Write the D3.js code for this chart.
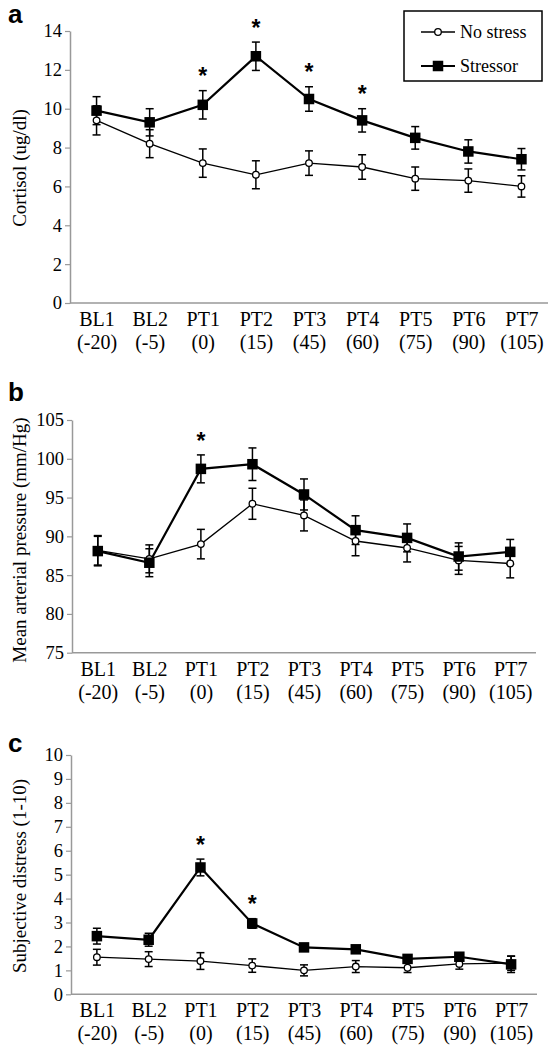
<!DOCTYPE html>
<html>
<head>
<meta charset="utf-8">
<script src="https://cdn.jsdelivr.net/npm/d3@7"></script>
<style>
  html, body { margin: 0; padding: 0; background: #fff; }
  svg { display: block; }
  svg text { font-family: "Liberation Serif", "Times New Roman", Times, "DejaVu Serif", serif; }
  svg text.sans { font-family: "Liberation Sans", Arial, Helvetica, sans-serif; font-weight: bold; }
</style>
</head>
<body>
<svg id="chart" width="557" height="1050"></svg>
<script>
// ---------- DATA ----------
const categories = ["BL1", "BL2", "PT1", "PT2", "PT3", "PT4", "PT5", "PT6", "PT7"];
const categoryTimes = ["(-20)", "(-5)", "(0)", "(15)", "(45)", "(60)", "(75)", "(90)", "(105)"];
const seriesNames = ["No stress", "Stressor"];

// Panel a: Cortisol (ug/dl)
const cortisolNoStress    = [9.4, 8.2, 7.2, 6.6, 7.2, 7.0, 6.4, 6.3, 6.0];
const cortisolNoStressErr = [0.75, 0.72, 0.73, 0.72, 0.63, 0.63, 0.6, 0.6, 0.55];
const cortisolStressor    = [9.9, 9.3, 10.2, 12.7, 10.5, 9.4, 8.5, 7.8, 7.4];
const cortisolStressorErr = [0.72, 0.7, 0.73, 0.73, 0.63, 0.6, 0.58, 0.6, 0.55];
const cortisolStars       = ["PT1", "PT2", "PT3", "PT4"];
const cortisolTicks       = [0, 2, 4, 6, 8, 10, 12, 14];

// Panel b: Mean arterial pressure (mm/Hg)
const mapNoStress    = [88.2, 87.1, 89.0, 94.2, 92.7, 89.4, 88.5, 86.9, 86.5];
const mapNoStressErr = [1.9, 1.8, 1.9, 2.0, 2.0, 1.9, 1.8, 1.8, 1.85];
const mapStressor    = [88.1, 86.6, 98.7, 99.3, 95.4, 90.8, 89.8, 87.4, 88.0];
const mapStressorErr = [1.9, 1.8, 1.8, 2.1, 2.0, 1.85, 1.8, 1.76, 1.6];
const mapStars       = ["PT1"];
const mapTicks       = [75, 80, 85, 90, 95, 100, 105];

// Panel c: Subjective distress (1-10)
const distressNoStress    = [1.55, 1.47, 1.39, 1.2, 1.0, 1.16, 1.11, 1.27, 1.3];
const distressNoStressErr = [0.33, 0.31, 0.35, 0.28, 0.23, 0.25, 0.2, 0.22, 0.3];
const distressStressor    = [2.43, 2.28, 5.3, 2.96, 1.96, 1.88, 1.48, 1.57, 1.25];
const distressStressorErr = [0.33, 0.27, 0.35, 0.2, 0.15, 0.15, 0.12, 0.15, 0.34];
const distressStars       = ["PT1", "PT2"];
const distressTicks       = [0, 1, 2, 3, 4, 5, 6, 7, 8, 9, 10];

// ---------- LAYOUT ----------
const svg = d3.select("#chart");
const AXIS_COLOR = "#999";

const panels = [
  { label: "a", title: "Cortisol (ug/dl)", noStress: cortisolNoStress, noStressErr: cortisolNoStressErr,
    stressor: cortisolStressor, stressorErr: cortisolStressorErr, stars: cortisolStars, ticks: cortisolTicks,
    domain: [0, 14], x0: 70, x1: 548, yTop: 31, yBot: 303, labelY: 23, titleY: 168, legend: true },
  { label: "b", title: "Mean arterial pressure (mm/Hg)", noStress: mapNoStress, noStressErr: mapNoStressErr,
    stressor: mapStressor, stressorErr: mapStressorErr, stars: mapStars, ticks: mapTicks,
    domain: [75, 105], x0: 72, x1: 536, yTop: 420, yBot: 652.7, labelY: 401, titleY: 540, legend: false },
  { label: "c", title: "Subjective distress (1-10)", noStress: distressNoStress, noStressErr: distressNoStressErr,
    stressor: distressStressor, stressorErr: distressStressorErr, stars: distressStars, ticks: distressTicks,
    domain: [0, 10], x0: 71, x1: 537, yTop: 755, yBot: 994.3, labelY: 752, titleY: 876, legend: false }
];

panels.forEach(p => {
  const g = svg.append("g");
  const x = d3.scalePoint().domain(categories).range([p.x0, p.x1]).padding(0.5);
  const y = d3.scaleLinear().domain(p.domain).range([p.yBot, p.yTop]);

  // Y axis
  const yAxis = g.append("g")
    .attr("transform", `translate(${p.x0},0)`)
    .call(d3.axisLeft(y).tickValues(p.ticks).tickSize(5).tickSizeOuter(0).tickPadding(3));
  yAxis.attr("font-family", null).attr("font-size", null);
  yAxis.select(".domain").attr("stroke", AXIS_COLOR).attr("stroke-width", 1.5);
  yAxis.selectAll(".tick line").attr("stroke", AXIS_COLOR).attr("stroke-width", 1.2);
  yAxis.selectAll(".tick text").style("font-size", "18.5px").attr("fill", "#000");

  // X axis
  const xAxis = g.append("g")
    .attr("transform", `translate(0,${p.yBot})`)
    .call(d3.axisBottom(x).tickSize(0).tickSizeOuter(0).tickPadding(0));
  xAxis.attr("font-family", null).attr("font-size", null);
  xAxis.select(".domain").attr("stroke", AXIS_COLOR).attr("stroke-width", 1.5)
    .attr("d", `M${p.x0},0H${p.x1}`);
  xAxis.selectAll(".tick text").each(function(d) {
    const t = d3.select(this);
    t.text(null).attr("y", 0).attr("dy", null)
      .style("font-size", "20px").attr("fill", "#000");
    t.append("tspan").attr("x", 0).attr("y", 23).text(d);
    t.append("tspan").attr("x", 0).attr("y", 46).text(categoryTimes[categories.indexOf(d)]);
  });

  // Y title
  g.append("text")
    .attr("transform", `translate(26,${p.titleY}) rotate(-90)`)
    .attr("text-anchor", "middle")
    .style("font-size", "19px")
    .text(p.title);

  // Panel label
  g.append("text").attr("class", "sans")
    .attr("x", 8).attr("y", p.labelY)
    .style("font-size", "26px")
    .text(p.label);

  const series = [
    { name: seriesNames[0], vals: p.noStress, errs: p.noStressErr, width: 1.3 },
    { name: seriesNames[1], vals: p.stressor, errs: p.stressorErr, width: 2.2 }
  ];

  const line = d3.line().x((d, i) => x(categories[i])).y(d => y(d));

  // error bars
  series.forEach(s => {
    const eg = g.append("g").attr("stroke", "#000").attr("stroke-width", 1.5).attr("fill", "none");
    s.vals.forEach((v, i) => {
      const cx = x(categories[i]);
      const yt = y(v + s.errs[i]), yb = y(v - s.errs[i]);
      eg.append("line").attr("x1", cx).attr("x2", cx).attr("y1", yt).attr("y2", yb);
      eg.append("line").attr("x1", cx - 4).attr("x2", cx + 4).attr("y1", yt).attr("y2", yt);
      eg.append("line").attr("x1", cx - 4).attr("x2", cx + 4).attr("y1", yb).attr("y2", yb);
    });
  });

  // lines
  series.forEach(s => {
    g.append("path").datum(s.vals)
      .attr("d", line).attr("fill", "none").attr("stroke", "#000").attr("stroke-width", s.width);
  });

  // markers: circles (no stress)
  g.selectAll(".circ").data(p.noStress).enter().append("circle")
    .attr("cx", (d, i) => x(categories[i])).attr("cy", d => y(d)).attr("r", 3.3)
    .attr("fill", "#fff").attr("stroke", "#000").attr("stroke-width", 1.3);

  // squares (stressor)
  const sq = 10.5;
  g.selectAll(".sq").data(p.stressor).enter().append("rect")
    .attr("x", (d, i) => x(categories[i]) - sq / 2).attr("y", d => y(d) - sq / 2)
    .attr("width", sq).attr("height", sq).attr("fill", "#000");

  // significance stars
  p.stars.forEach(c => {
    const i = categories.indexOf(c);
    const top = y(p.stressor[i] + p.stressorErr[i]);
    const cy = top - 19;
    g.append("text").attr("class", "sans")
      .attr("x", x(c)).attr("y", cy + 0.55 * 23)
      .attr("text-anchor", "middle")
      .style("font-size", "23px")
      .text("*");
  });

  // legend
  if (p.legend) {
    const lg = g.append("g");
    lg.append("rect").attr("x", 404).attr("y", 11).attr("width", 138).attr("height", 70)
      .attr("fill", "#fff").attr("stroke", "#000").attr("stroke-width", 1.5);
    const rows = [32, 66];
    seriesNames.forEach((n, k) => {
      lg.append("line").attr("x1", 421).attr("x2", 455).attr("y1", rows[k]).attr("y2", rows[k])
        .attr("stroke", "#000").attr("stroke-width", k === 0 ? 1.3 : 2.2);
      if (k === 0) {
        lg.append("circle").attr("cx", 438).attr("cy", rows[k]).attr("r", 3.3)
          .attr("fill", "#fff").attr("stroke", "#000").attr("stroke-width", 1.3);
      } else {
        lg.append("rect").attr("x", 438 - sq / 2).attr("y", rows[k] - sq / 2)
          .attr("width", sq).attr("height", sq).attr("fill", "#000");
      }
      lg.append("text").attr("x", 460).attr("y", rows[k] + 6)
        .style("font-size", "18px").text(n);
    });
  }
});
</script>
</body>
</html>
